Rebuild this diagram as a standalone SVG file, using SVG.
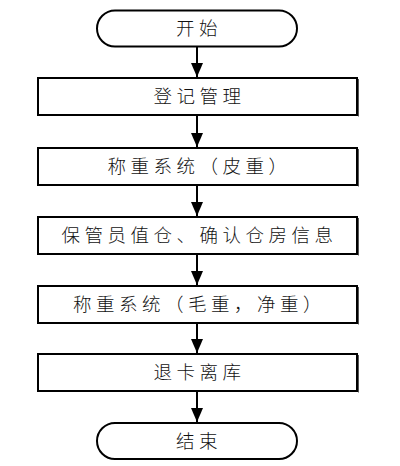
<svg xmlns="http://www.w3.org/2000/svg" width="400" height="466" viewBox="0 0 400 466">
<style>
.box{fill:#fff;stroke:#000;stroke-width:2}
.sh{fill:none;stroke:#555;stroke-width:1}
.t{font-family:"Noto Sans CJK SC","Noto Sans",sans-serif;font-size:18.5px;font-weight:300;letter-spacing:4.5px;text-anchor:middle;fill:#111}
.c{stroke:#000;stroke-width:2;fill:none}
</style>
<defs>
<marker id="ah" markerWidth="14" markerHeight="12" refX="14" refY="6" orient="auto" markerUnits="userSpaceOnUse" viewBox="0 0 14 12">
<path d="M0,0 L14,6 L0,12 Z" fill="#000"/>
</marker>
</defs>
<rect width="400" height="466" fill="#fff"/>
<g id="start">
<rect class="box" x="97" y="10.5" width="200" height="36" rx="18" ry="18"/>
<text class="t" x="199" y="34.5">开始</text>
</g>
<g id="n1">
<rect class="box" x="38" y="78" width="319" height="37"/>
<line class="sh" x1="358.5" y1="79" x2="358.5" y2="116.5"/>
<text class="t" x="199.5" y="103">登记管理</text>
</g>
<g id="n2">
<rect class="box" x="38" y="148" width="319" height="37"/>
<line class="sh" x1="358.5" y1="149" x2="358.5" y2="186.5"/>
<text class="t" x="199.5" y="173">称重系统（皮重）</text>
</g>
<g id="n3">
<rect class="box" x="38" y="217" width="319" height="37"/>
<line class="sh" x1="358.5" y1="218" x2="358.5" y2="255.5"/>
<text class="t" x="199.5" y="242">保管员值仓、确认仓房信息</text>
</g>
<g id="n4">
<rect class="box" x="38" y="286" width="319" height="37"/>
<line class="sh" x1="358.5" y1="287" x2="358.5" y2="324.5"/>
<text class="t" x="199.5" y="311">称重系统（毛重，净重）</text>
</g>
<g id="n5">
<rect class="box" x="38" y="354" width="319" height="37"/>
<line class="sh" x1="358.5" y1="355" x2="358.5" y2="392.5"/>
<text class="t" x="199.5" y="379">退卡离库</text>
</g>
<g id="end">
<rect class="box" x="97" y="423" width="200" height="36" rx="18" ry="18"/>
<text class="t" x="199" y="447.5">结束</text>
</g>
<g id="connectors">
<line class="c" x1="197" y1="47" x2="197" y2="77" marker-end="url(#ah)"/>
<line class="c" x1="197" y1="116" x2="197" y2="147" marker-end="url(#ah)"/>
<line class="c" x1="197" y1="186" x2="197" y2="216" marker-end="url(#ah)"/>
<line class="c" x1="197" y1="255" x2="197" y2="285" marker-end="url(#ah)"/>
<line class="c" x1="197" y1="324" x2="197" y2="353" marker-end="url(#ah)"/>
<line class="c" x1="197" y1="392" x2="197" y2="422" marker-end="url(#ah)"/>
</g>
</svg>
